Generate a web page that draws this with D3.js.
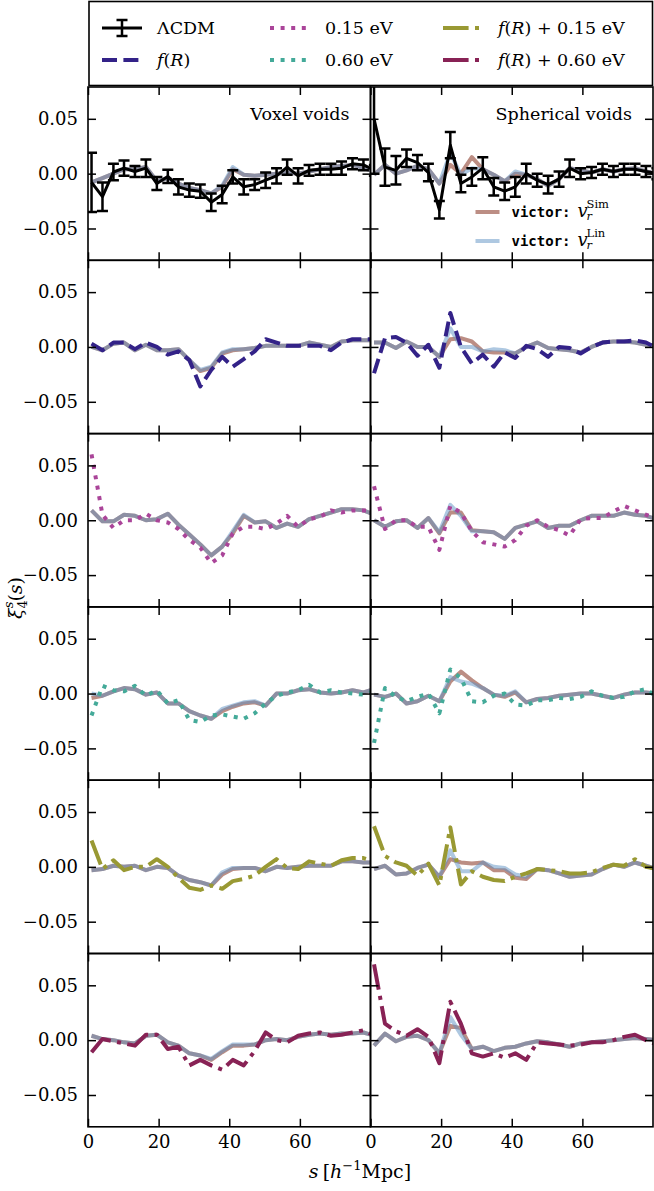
<!DOCTYPE html>
<html>
<head>
<meta charset="utf-8">
<script src="https://cdn.jsdelivr.net/npm/d3@7"></script>
<style>
  body { margin: 0; background: #fff; }
  text { font-family: "DejaVu Serif", "Liberation Serif", serif; fill: #000; }
  .tick text { font-size: 18px; }
  .tick line { stroke: #000; stroke-width: 1.5; }
</style>
</head>
<body>
<svg id="fig"></svg>
<script>
// separation s in h^-1 Mpc (bin centres, last one falls past the axis edge)
const S = [1.0, 4.1, 7.2, 10.2, 13.3, 16.4, 19.5, 22.6, 25.6, 28.7, 31.8, 34.9, 38.0, 41.0,
           44.1, 47.2, 50.3, 53.4, 56.4, 59.5, 62.6, 65.7, 68.8, 71.8, 74.9, 78.0, 81.1];
const xTicks = [0, 20, 40, 60];
const yTicks = [-0.05, 0, 0.05];

// ---- LCDM (with errors) ----
const lcdmVox = [-0.008, -0.021, 0.0015, 0.005, 0.002, 0.005, -0.009, -0.0025, -0.012, -0.015, -0.016, -0.026, -0.019, -0.003,
                 -0.012, -0.010, -0.006, -0.002, 0.006, -0.002, 0.003, 0.004, 0.004, 0.005, 0.009, 0.008, 0.003];
const lcdmVoxErr = [0.027, 0.013, 0.0075, 0.007, 0.005, 0.008, 0.006, 0.006, 0.007, 0.006, 0.006, 0.008, 0.008, 0.006,
                    0.007, 0.005, 0.007, 0.007, 0.007, 0.007, 0.005, 0.005, 0.005, 0.006, 0.005, 0.005, 0.005];
const lcdmSph = [0.050, 0.006, 0.003, 0.014, 0.010, 0.001, -0.033, 0.026, -0.009, -0.003, 0.005, -0.012, -0.016, -0.012,
                 0.000, -0.006, -0.010, -0.005, 0.005, 0.000, 0.001, 0.004, 0.002, 0.004, 0.004, 0.002, 0.000];
const lcdmSphErr = [0.05, 0.017, 0.013, 0.008, 0.007, 0.008, 0.008, 0.012, 0.008, 0.008, 0.010, 0.008, 0.008, 0.009,
                    0.009, 0.006, 0.008, 0.007, 0.008, 0.005, 0.005, 0.005, 0.005, 0.005, 0.005, 0.005, 0.005];
const lcdmVoxSim = [-0.008, -0.004, 0.000, 0.004, 0.004, 0.006, -0.007, -0.004, -0.009, -0.013, -0.015, -0.018, -0.012, 0.004,
                    -0.001, -0.002, -0.001, 0.000, 0.001, 0.000, 0.002, 0.004, 0.006, 0.007, 0.008, 0.005, 0.002];
const lcdmVoxLin = [-0.008, -0.004, 0.000, 0.004, 0.004, 0.006, -0.007, -0.004, -0.009, -0.013, -0.015, -0.018, -0.011, 0.006,
                    -0.001, -0.002, -0.001, 0.000, 0.001, 0.000, 0.002, 0.004, 0.006, 0.007, 0.008, 0.005, 0.002];
const lcdmSphSim = [-0.001, 0.008, 0.000, 0.003, 0.007, 0.004, -0.009, 0.008, 0.000, 0.015, 0.004, -0.001, -0.007, 0.000,
                    -0.001, -0.005, -0.011, -0.005, 0.005, 0.003, 0.001, 0.004, 0.002, 0.004, 0.005, 0.002, 0.000];
const lcdmSphLin = [-0.001, 0.008, 0.000, 0.003, 0.007, 0.004, -0.009, 0.019, -0.001, 0.005, 0.004, -0.001, -0.007, 0.002,
                    -0.001, -0.005, -0.011, -0.005, 0.005, 0.003, 0.001, 0.004, 0.002, 0.004, 0.005, 0.002, 0.000];

// ---- f(R) ----
const fRVox = [0.003, -0.003, 0.004, 0.004, -0.002, 0.004, 0.000, -0.007, -0.004, -0.012, -0.036, -0.021, -0.009, -0.018,
               -0.011, -0.004, 0.007, 0.004, 0.001, 0.001, 0.001, 0.001, -0.003, 0.004, 0.007, 0.007, 0.007];
const fRSph = [-0.024, 0.008, 0.009, 0.004, -0.008, 0.002, -0.019, 0.031, 0.000, -0.015, -0.007, -0.018, -0.005, -0.010,
               0.001, -0.002, -0.009, 0.000, -0.001, -0.006, 0.000, 0.004, 0.005, 0.005, 0.006, 0.004, -0.001];
const fRVoxSim = [0.000, -0.003, 0.003, 0.004, -0.003, 0.002, -0.003, -0.003, -0.002, -0.012, -0.022, -0.019, -0.006, -0.003,
                  -0.002, -0.001, 0.001, 0.001, 0.001, 0.001, 0.004, 0.002, 0.000, 0.005, 0.006, 0.006, 0.006];
const fRVoxLin = [0.000, -0.003, 0.003, 0.004, -0.003, 0.002, -0.003, -0.003, -0.002, -0.012, -0.021, -0.018, -0.005, -0.002,
                  -0.002, -0.001, 0.001, 0.001, 0.001, 0.001, 0.004, 0.002, 0.000, 0.005, 0.006, 0.006, 0.006];
const fRSphSim = [0.004, 0.004, -0.001, 0.005, 0.000, 0.000, -0.009, 0.007, 0.008, 0.005, -0.004, -0.005, -0.005, -0.006,
                  0.000, 0.004, -0.001, -0.002, -0.003, -0.005, 0.000, 0.004, 0.005, 0.005, 0.004, 0.002, 0.001];
const fRSphLin = [0.004, 0.004, -0.001, 0.005, 0.000, 0.000, -0.009, 0.017, 0.000, 0.000, -0.004, -0.002, -0.003, -0.006,
                  0.000, 0.004, -0.001, -0.002, -0.003, -0.005, 0.000, 0.004, 0.005, 0.005, 0.004, 0.002, 0.001];

// ---- 0.15 eV ----
const nu15Vox = [0.060, 0.005, -0.007, 0.000, 0.000, 0.006, 0.000, -0.002, -0.008, -0.018, -0.025, -0.039, -0.032, -0.012,
                 -0.006, -0.006, -0.008, -0.003, 0.004, -0.006, 0.001, 0.003, 0.009, 0.007, 0.009, 0.009, 0.009];
const nu15Sph = [0.031, -0.008, 0.000, 0.000, -0.006, -0.006, -0.027, 0.013, 0.007, -0.010, -0.020, -0.022, -0.024, -0.018,
                 -0.005, 0.000, -0.006, -0.009, -0.014, 0.001, 0.002, 0.002, 0.008, 0.013, 0.009, 0.005, 0.002];
const nu15VoxSim = [0.009, -0.001, -0.001, 0.005, 0.004, 0.000, 0.001, 0.006, -0.004, -0.013, -0.022, -0.032, -0.024, -0.012,
                    0.004, -0.002, -0.001, -0.007, -0.003, -0.006, 0.001, 0.004, 0.007, 0.010, 0.010, 0.009, 0.005];
const nu15VoxLin = [0.009, -0.001, -0.001, 0.005, 0.004, 0.000, 0.001, 0.006, -0.004, -0.013, -0.022, -0.032, -0.024, -0.010,
                    0.005, -0.002, -0.001, -0.007, -0.003, -0.006, 0.001, 0.004, 0.007, 0.010, 0.010, 0.009, 0.005];
const nu15SphSim = [0.000, -0.006, -0.001, 0.000, -0.007, 0.002, -0.012, 0.007, 0.007, -0.009, -0.010, -0.011, -0.017, -0.007,
                    -0.004, -0.001, -0.007, -0.005, -0.005, 0.000, 0.004, 0.004, 0.004, 0.007, 0.005, 0.004, 0.001];
const nu15SphLin = [0.000, -0.006, -0.001, 0.000, -0.007, 0.002, -0.011, 0.014, 0.004, -0.010, -0.010, -0.011, -0.017, -0.007,
                    -0.004, -0.001, -0.007, -0.005, -0.005, 0.000, 0.004, 0.004, 0.004, 0.007, 0.005, 0.004, 0.001];

// ---- 0.60 eV ----
const nu60Vox = [-0.020, 0.007, 0.003, 0.002, 0.007, -0.002, 0.003, -0.009, -0.006, -0.024, -0.026, -0.020, -0.019, -0.021,
                 -0.023, -0.018, -0.009, -0.002, 0.001, 0.003, 0.008, 0.001, 0.003, 0.001, 0.000, -0.001, 0.002];
const nu60Sph = [-0.045, 0.005, -0.003, -0.007, -0.003, 0.000, -0.018, 0.022, 0.014, -0.007, -0.008, -0.002, 0.000, -0.010,
                 -0.011, -0.006, -0.006, -0.004, -0.005, -0.003, 0.002, -0.002, -0.004, -0.003, 0.002, 0.004, -0.003];
const nu60VoxSim = [-0.004, -0.002, 0.002, 0.005, 0.004, -0.001, 0.001, -0.009, -0.009, -0.016, -0.020, -0.023, -0.016, -0.012,
                    -0.009, -0.008, -0.011, 0.000, 0.000, 0.003, 0.004, 0.001, 0.000, 0.001, 0.003, 0.001, 0.004];
const nu60VoxLin = [0.000, -0.002, 0.002, 0.005, 0.004, -0.001, 0.001, -0.009, -0.009, -0.016, -0.020, -0.023, -0.014, -0.011,
                    -0.008, -0.007, -0.011, 0.000, 0.000, 0.003, 0.004, 0.001, 0.000, 0.001, 0.003, 0.001, 0.004];
const nu60SphSim = [-0.001, -0.003, 0.000, -0.009, -0.007, -0.002, -0.007, 0.011, 0.020, 0.012, 0.005, -0.001, -0.003, 0.001,
                    -0.008, -0.005, -0.004, -0.002, -0.001, 0.000, 0.000, -0.002, -0.004, -0.001, 0.001, 0.001, 0.000];
const nu60SphLin = [-0.001, -0.003, 0.000, -0.009, -0.007, -0.002, -0.007, 0.015, 0.011, 0.009, 0.005, -0.001, -0.002, 0.002,
                    -0.008, -0.005, -0.004, -0.002, -0.001, 0.000, 0.000, -0.002, -0.004, -0.001, 0.001, 0.001, 0.000];

// ---- f(R) + 0.15 eV ----
const fR15Vox = [0.024, -0.002, 0.006, -0.003, 0.000, 0.000, 0.007, 0.000, -0.010, -0.019, -0.021, -0.017, -0.020, -0.013,
                 -0.011, -0.008, 0.000, 0.007, -0.001, -0.002, 0.005, 0.003, 0.001, 0.006, 0.008, 0.008, 0.005];
const fR15Sph = [0.037, 0.010, 0.004, 0.001, -0.008, 0.003, -0.017, 0.036, -0.016, -0.004, -0.009, -0.012, -0.013, -0.009,
                 -0.006, -0.002, -0.003, -0.004, -0.006, -0.006, -0.005, -0.001, 0.002, 0.001, 0.007, 0.000, -0.002];
const fR15VoxSim = [-0.003, -0.002, 0.001, 0.000, 0.001, -0.003, 0.000, -0.001, -0.008, -0.012, -0.014, -0.017, -0.007, -0.002,
                    -0.001, -0.001, -0.004, 0.000, -0.001, 0.000, 0.001, 0.001, 0.001, 0.005, 0.005, 0.004, 0.004];
const fR15VoxLin = [-0.003, -0.002, 0.001, 0.000, 0.001, -0.003, 0.000, -0.001, -0.008, -0.012, -0.014, -0.017, -0.005, -0.001,
                    -0.001, -0.001, -0.004, 0.000, -0.001, 0.000, 0.001, 0.001, 0.001, 0.005, 0.005, 0.004, 0.004];
const fR15SphSim = [-0.002, 0.001, -0.007, -0.006, -0.001, 0.002, -0.009, 0.007, 0.004, 0.003, 0.004, -0.003, -0.003, -0.010,
                    -0.011, -0.002, -0.003, -0.006, -0.009, -0.008, -0.007, -0.002, 0.002, 0.000, 0.004, 0.001, -0.002];
const fR15SphLin = [-0.002, 0.001, -0.007, -0.006, -0.001, 0.002, -0.009, 0.015, -0.004, -0.004, 0.004, 0.000, -0.001, -0.007,
                    -0.009, -0.002, -0.003, -0.006, -0.009, -0.008, -0.007, -0.002, 0.002, 0.000, 0.004, 0.001, -0.002];

// ---- f(R) + 0.60 eV ----
const fR60Vox = [-0.011, 0.001, -0.001, -0.003, -0.005, 0.005, 0.005, -0.008, -0.006, -0.023, -0.018, -0.023, -0.027, -0.018,
                 -0.023, -0.010, 0.007, 0.000, -0.002, 0.004, 0.006, 0.007, 0.004, 0.005, 0.007, 0.009, 0.004];
const fR60Sph = [0.069, 0.015, 0.008, 0.004, 0.010, 0.003, -0.021, 0.035, 0.015, -0.012, -0.015, -0.012, -0.016, -0.012,
                 -0.018, -0.002, -0.003, -0.004, -0.005, -0.004, -0.002, -0.002, 0.000, 0.003, 0.005, 0.000, -0.004];
const fR60VoxSim = [0.004, 0.001, 0.000, -0.002, -0.003, 0.004, 0.005, -0.002, -0.005, -0.012, -0.014, -0.018, -0.011, -0.005,
                    -0.005, -0.004, 0.000, 0.001, 0.000, 0.003, 0.005, 0.006, 0.005, 0.006, 0.006, 0.007, 0.004];
const fR60VoxLin = [0.004, 0.001, 0.000, -0.002, -0.003, 0.004, 0.005, -0.002, -0.005, -0.012, -0.014, -0.017, -0.010, -0.004,
                    -0.004, -0.004, 0.000, 0.001, 0.000, 0.003, 0.005, 0.006, 0.005, 0.006, 0.006, 0.007, 0.004];
const fR60SphSim = [-0.005, 0.006, -0.001, 0.003, 0.004, 0.000, -0.012, 0.013, 0.011, -0.008, -0.006, -0.010, -0.007, -0.006,
                    -0.003, -0.001, -0.002, -0.004, -0.006, -0.003, -0.002, -0.001, 0.000, 0.001, 0.002, 0.001, 0.000];
const fR60SphLin = [-0.005, 0.006, -0.001, 0.003, 0.004, 0.000, -0.012, 0.021, 0.005, -0.008, -0.006, -0.010, -0.007, -0.006,
                    -0.003, -0.001, -0.002, -0.004, -0.006, -0.003, -0.002, -0.001, 0.000, 0.001, 0.002, 0.001, 0.000];

const simColor = "#7a1e0a", linColor = "#5e91c4";  // drawn at half opacity

const models = [
  { label: "lcdm", color: "#000000", dash: null, width: 3, vox: lcdmVox, sph: lcdmSph, err: [lcdmVoxErr, lcdmSphErr],
    sim: [lcdmVoxSim, lcdmSphSim], lin: [lcdmVoxLin, lcdmSphLin] },
  { label: "fR", color: "#332288", dash: "15,6.4", width: 4, vox: fRVox, sph: fRSph,
    sim: [fRVoxSim, fRSphSim], lin: [fRVoxLin, fRSphLin] },
  { label: "nu15", color: "#AA4499", dash: "4,6.6", width: 4, vox: nu15Vox, sph: nu15Sph,
    sim: [nu15VoxSim, nu15SphSim], lin: [nu15VoxLin, nu15SphLin] },
  { label: "nu60", color: "#44AA99", dash: "4,6.6", width: 4, vox: nu60Vox, sph: nu60Sph,
    sim: [nu60VoxSim, nu60SphSim], lin: [nu60VoxLin, nu60SphLin] },
  { label: "fR15", color: "#999933", dash: "25.6,6.4,4,6.4", width: 4, vox: fR15Vox, sph: fR15Sph,
    sim: [fR15VoxSim, fR15SphSim], lin: [fR15VoxLin, fR15SphLin] },
  { label: "fR60", color: "#882255", dash: "25.6,6.4,4,6.4", width: 4, vox: fR60Vox, sph: fR60Sph,
    sim: [fR60VoxSim, fR60SphSim], lin: [fR60VoxLin, fR60SphLin] }
];

const W = 654, H = 1191;
const plotLeft = 88, plotTop = 87, pw = 282.5, ph = 173.3;

const svg = d3.select("#fig").attr("width", W).attr("height", H);

const x = d3.scaleLinear().domain([0, 80]).range([0, pw]);
const y = d3.scaleLinear().domain([-0.079, 0.079]).range([ph, 0]);
const line = d3.line().x((d, i) => x(S[i])).y(d => y(d));

svg.append("defs").append("clipPath").attr("id", "clip")
  .append("rect").attr("width", pw).attr("height", ph);

models.forEach((m, ri) => {
  [0, 1].forEach(ci => {
    const g = svg.append("g").attr("transform", `translate(${plotLeft + ci * pw},${plotTop + ri * ph})`);
    const body = g.append("g").attr("clip-path", "url(#clip)");

    // victor predictions, half transparent
    body.append("path").datum(m.sim[ci]).attr("d", line)
      .attr("fill", "none").attr("stroke", simColor).attr("stroke-opacity", 0.5)
      .attr("stroke-width", 4).attr("stroke-linejoin", "round");
    body.append("path").datum(m.lin[ci]).attr("d", line)
      .attr("fill", "none").attr("stroke", linColor).attr("stroke-opacity", 0.5)
      .attr("stroke-width", 4).attr("stroke-linejoin", "round");

    const vals = ci === 0 ? m.vox : m.sph;
    if (m.err) {
      const e = m.err[ci];
      const eb = body.append("g").selectAll("g").data(vals).join("g")
        .attr("stroke", "#000").attr("stroke-width", 2.5);
      eb.append("line")
        .attr("x1", (d, i) => x(S[i])).attr("x2", (d, i) => x(S[i]))
        .attr("y1", (d, i) => y(d - e[i])).attr("y2", (d, i) => y(d + e[i]));
      eb.append("line")
        .attr("x1", (d, i) => x(S[i]) - 5.5).attr("x2", (d, i) => x(S[i]) + 5.5)
        .attr("y1", (d, i) => y(d - e[i])).attr("y2", (d, i) => y(d - e[i]));
      eb.append("line")
        .attr("x1", (d, i) => x(S[i]) - 5.5).attr("x2", (d, i) => x(S[i]) + 5.5)
        .attr("y1", (d, i) => y(d + e[i])).attr("y2", (d, i) => y(d + e[i]));
    }
    body.append("path").datum(vals).attr("d", line)
      .attr("fill", "none").attr("stroke", m.color).attr("stroke-width", m.width)
      .attr("stroke-dasharray", m.dash).attr("stroke-linejoin", "round");

    // axes, ticks pointing inward on all four sides
    const showX = ri === models.length - 1, showY = ci === 0;
    g.append("g").attr("transform", `translate(0,${ph})`)
      .call(d3.axisBottom(x).tickValues(xTicks).tickSize(-8).tickPadding(8)
        .tickFormat(showX ? d3.format("d") : ""))
      .call(a => a.select(".domain").remove());
    g.append("g")
      .call(d3.axisTop(x).tickValues(xTicks).tickSize(-8).tickFormat(""))
      .call(a => a.select(".domain").remove());
    g.append("g")
      .call(d3.axisLeft(y).tickValues(yTicks).tickSize(-8).tickPadding(10)
        .tickFormat(showY ? d3.format(".2f") : ""))
      .call(a => a.select(".domain").remove());
    g.append("g").attr("transform", `translate(${pw},0)`)
      .call(d3.axisRight(y).tickValues(yTicks).tickSize(-8).tickFormat(""))
      .call(a => a.select(".domain").remove());
    g.selectAll("g").attr("font-family", null).attr("font-size", null);

    g.append("rect").attr("width", pw).attr("height", ph)
      .attr("fill", "none").attr("stroke", "#000").attr("stroke-width", 1.6);

    if (ri === 0) {
      g.append("text").attr("x", pw - 21).attr("y", 33).attr("text-anchor", "end")
        .attr("font-size", 17.5).text(ci === 0 ? "Voxel voids" : "Spherical voids");
    }
    if (ri === 0 && ci === 1) {
      // small legend for the two victor curves; sub/superscripts as separate texts
      const items = [["Sim", simColor, 125], ["Lin", linColor, 154]];
      items.forEach(([sup, col, yy]) => {
        g.append("line").attr("x1", 105).attr("x2", 129).attr("y1", yy).attr("y2", yy)
          .attr("stroke", col).attr("stroke-opacity", 0.5).attr("stroke-width", 4);
        const t = g.append("text").attr("x", 141).attr("y", yy + 5).attr("font-size", 18);
        t.append("tspan").attr("font-family", "DejaVu Sans Mono, Liberation Mono, monospace")
          .attr("font-size", 14).attr("font-weight", "bold").text("victor:");
        t.append("tspan").attr("font-style", "italic").attr("dx", 7).text("v");
        g.append("text").attr("x", 216).attr("y", yy + 8).attr("font-size", 11.5)
          .attr("font-style", "italic").text("r");
        g.append("text").attr("x", 216).attr("y", yy - 4).attr("font-size", 11.5).text(sup);
      });
    }
  });
});

// ---- top legend ----
const leg = svg.append("g");
leg.append("rect").attr("x", 89).attr("y", 1.5).attr("width", 563.5).attr("height", 84)
  .attr("fill", "#fff").attr("stroke", "#000").attr("stroke-width", 1.6);

const legCols = [102, 270, 443];
const legRows = [28, 60];
const legTextX = [157, 325, 498];
const legOrder = [[0, 0], [0, 1], [1, 0], [1, 1], [2, 0], [2, 1]];
models.forEach((m, k) => {
  const [c, r] = legOrder[k];
  const yy = legRows[r];
  leg.append("line").attr("x1", legCols[c]).attr("x2", legCols[c] + 40).attr("y1", yy).attr("y2", yy)
    .attr("stroke", m.color).attr("stroke-width", m.width).attr("stroke-dasharray", m.dash);
  if (m.err) {
    const cx = legCols[c] + 20;
    leg.append("path").attr("d", `M${cx},${yy - 8}V${yy + 8}M${cx - 5.5},${yy - 8}H${cx + 5.5}M${cx - 5.5},${yy + 8}H${cx + 5.5}`)
      .attr("stroke", "#000").attr("stroke-width", 2.5).attr("fill", "none");
  }
  const t = leg.append("text").attr("x", legTextX[c]).attr("y", yy + 6).attr("font-size", 17.5);
  const fR = () => {
    t.append("tspan").attr("font-style", "italic").text("f");
    t.append("tspan").text("(");
    t.append("tspan").attr("font-style", "italic").text("R");
    t.append("tspan").text(")");
  };
  if (m.label === "lcdm") t.text("ΛCDM");
  else if (m.label === "fR") fR();
  else if (m.label === "nu15") t.text("0.15 eV");
  else if (m.label === "nu60") t.text("0.60 eV");
  else { fR(); t.append("tspan").text(m.label === "fR15" ? " + 0.15 eV" : " + 0.60 eV"); }
});

// ---- axis titles ----
const xl = svg.append("text").attr("x", 360).attr("y", 1178).attr("text-anchor", "middle").attr("font-size", 19);
xl.append("tspan").attr("font-style", "italic").text("s");
xl.append("tspan").attr("dx", 4).text("[");
xl.append("tspan").attr("font-style", "italic").text("h");
xl.append("tspan").attr("font-size", 13).attr("dy", -8).text("−1");
xl.append("tspan").attr("dy", 8).text("Mpc]");

const yl = svg.append("text").attr("transform", "translate(22,598) rotate(-90)")
  .attr("text-anchor", "middle").attr("font-size", 19);
yl.append("tspan").attr("font-style", "italic").text("ξ");
yl.append("tspan").attr("font-size", 13).attr("dy", 5).text("4");
yl.append("tspan").attr("font-style", "italic").attr("font-size", 13).attr("dx", -8).attr("dy", -14).text("s");
yl.append("tspan").attr("dy", 9).text("(");
yl.append("tspan").attr("font-style", "italic").text("s");
yl.append("tspan").text(")");
</script>
</body>
</html>
